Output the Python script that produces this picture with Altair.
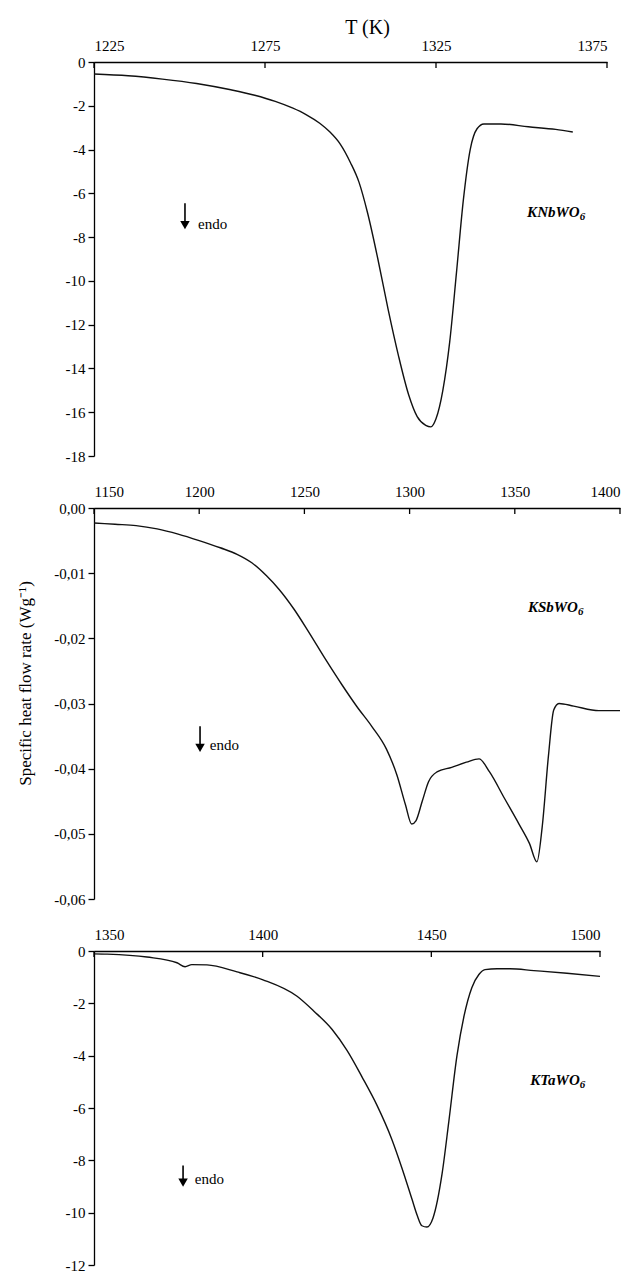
import altair as alt
import pandas as pd

FONT = "Liberation Serif"
MINUS = "\u2212"

# ---------------- data ----------------
# Panel 1: KNbWO6
t1 = [1225, 1235, 1245, 1255, 1265, 1272, 1278, 1283, 1287, 1291,
      1294, 1297, 1300, 1302.5, 1305, 1308, 1311, 1314, 1317, 1319.5,
      1322, 1323.5, 1325, 1327, 1329, 1331, 1333, 1335, 1337, 1339,
      1344, 1352, 1360, 1365]
v1 = [-0.55, -0.63, -0.78, -0.98, -1.27, -1.52, -1.8, -2.1, -2.4, -2.8,
      -3.2, -3.75, -4.6, -5.5, -6.9, -9.0, -11.3, -13.4, -15.2, -16.2,
      -16.6, -16.67, -16.3, -15.0, -12.8, -9.6, -6.3, -4.0, -3.05, -2.83,
      -2.83, -2.96, -3.08, -3.2]

# Panel 2: KSbWO6
t2 = [1150, 1160, 1170, 1180, 1190, 1200, 1210, 1218, 1225, 1232,
      1238, 1245, 1252, 1260, 1268, 1275, 1282, 1289, 1294, 1298,
      1301, 1303, 1306, 1309, 1313, 1320, 1327, 1333, 1338, 1345,
      1352, 1357, 1360.5, 1363, 1366, 1368.5, 1371, 1378, 1390, 1400]
v2 = [-0.0023, -0.0025, -0.0027, -0.0032, -0.0040, -0.0050, -0.0061, -0.0071, -0.0084, -0.0104,
      -0.0125, -0.0155, -0.0190, -0.0232, -0.0272, -0.0305, -0.0335, -0.0370, -0.0410, -0.0455,
      -0.0485, -0.0480, -0.0450, -0.0420, -0.0405, -0.0398, -0.0390, -0.0385, -0.0405, -0.0445,
      -0.0485, -0.0515, -0.0543, -0.0490, -0.0380, -0.0310, -0.0300, -0.0304, -0.0311, -0.0311]

# Panel 3: KTaWO6
t3 = [1350.0, 1353.9, 1365.7, 1374.6, 1377.0, 1379.0, 1383.5, 1392.4, 1400.1, 1410.2,
      1415.2, 1420.6, 1425.0, 1429.4, 1433.9, 1438.3, 1441.3, 1444.3, 1445.8, 1447.2,
      1448.7, 1450.5, 1453.2, 1455.2, 1457.6, 1459.7, 1462.0, 1464.1, 1465.9, 1469.5,
      1473.3, 1480.4, 1490.2, 1500.0]
v3 = [-0.11, -0.12, -0.23, -0.45, -0.6, -0.52, -0.53, -0.8, -1.1, -1.73,
      -2.3, -3.0, -3.8, -4.8, -5.9, -7.2, -8.3, -9.5, -10.1, -10.5,
      -10.55, -10.2, -8.5, -6.5, -4.0, -2.48, -1.4, -0.9, -0.71, -0.68,
      -0.68, -0.75, -0.85, -0.97]

# axis ticks
xt1 = [1225, 1275, 1325, 1375]
yt1 = [0, -2, -4, -6, -8, -10, -12, -14, -16, -18]
xt2 = [1150, 1200, 1250, 1300, 1350, 1400]
yt2 = [0.0, -0.01, -0.02, -0.03, -0.04, -0.05, -0.06]
xt3 = [1350, 1400, 1450, 1500]
yt3 = [0, -2, -4, -6, -8, -10, -12]

# annotations (data coordinates): compound name, subscript, "endo" arrow
names = ["KNbWO", "KSbWO", "KTaWO"]
subs = ["6", "6", "6"]
name_t = [1367.0, 1380.0, 1494.0]
name_v = [-6.85, -0.0152, -4.93]
arrow_t = [1251.6, 1200.4, 1376.4]
arrow_top = [-6.45, -0.0335, -8.2]
arrow_shaft_end = [-7.3, -0.0362, -8.8]
arrow_head = [-7.45, -0.0368, -8.85]
endo_t = [1255.4, 1205.0, 1379.9]
endo_v = [-7.4, -0.0363, -8.7]


def ylab(fmt):
    return f"replace(replace(format(datum.value, '{fmt}'), '.', ','), '{MINUS}', '-')"


def panel(i, t, v, xdom, xticks, ydom, yticks, width, height, yfmt, xtitle=None, ytitle=None):
    df = pd.DataFrame({"t": t, "v": v})
    xscale = alt.Scale(domain=xdom, nice=False, zero=False)
    yscale = alt.Scale(domain=ydom, nice=False, zero=False)

    xaxis_kw = dict(orient="top", values=xticks, format="d", tickSize=0, labelPadding=9,
                    labelFont=FONT, labelFontSize=15, labelColor="black",
                    domainColor="black", domainWidth=1.3, grid=False)
    if xtitle:
        xaxis_kw.update(title=xtitle, titleFont=FONT, titleFontSize=20, titleFontWeight="normal",
                        titleColor="black", titleX=273, titleY=-29, titleBaseline="alphabetic")
    else:
        xaxis_kw.update(title=None)
    yaxis_kw = dict(orient="left", values=yticks, labelExpr=ylab(yfmt), tickSize=6,
                    labelPadding=3, labelFont=FONT, labelFontSize=15, labelColor="black",
                    domainColor="black", domainWidth=1.3,
                    tickColor="black", tickWidth=1.3, grid=False)
    if ytitle:
        yaxis_kw.update(title=ytitle, titleFont=FONT, titleFontSize=17, titleFontWeight="normal",
                        titleColor="black", titleX=-69, titleY=175, titleBaseline="middle",
                        titleAngle=270)
    else:
        yaxis_kw.update(title=None)

    line = alt.Chart(df).mark_line(color="#111111", strokeWidth=1.4, interpolate="monotone").encode(
        x=alt.X("t:Q", scale=xscale, axis=alt.Axis(**xaxis_kw)),
        y=alt.Y("v:Q", scale=yscale, axis=alt.Axis(**yaxis_kw)),
    )

    ticks_df = pd.DataFrame({"t": xticks})
    xtick_marks = alt.Chart(ticks_df).mark_rule(color="black", strokeWidth=1.3).encode(
        x=alt.X("t:Q", scale=xscale),
        y=alt.value(0),
        y2=alt.value(6),
    )

    ann = pd.DataFrame({
        "name": [names[i]], "sub": [subs[i]], "nt": [name_t[i]], "nv": [name_v[i]],
        "at": [arrow_t[i]], "a0": [arrow_top[i]], "a1": [arrow_shaft_end[i]], "ah": [arrow_head[i]],
        "et": [endo_t[i]], "ev": [endo_v[i]],
    })
    name_mark = alt.Chart(ann).mark_text(font=FONT, fontSize=15, fontWeight="bold",
                                         fontStyle="italic", align="right", baseline="middle",
                                         color="black").encode(
        x=alt.X("nt:Q", scale=xscale), y=alt.Y("nv:Q", scale=yscale), text="name:N")
    sub_mark = alt.Chart(ann).mark_text(font=FONT, fontSize=11, fontWeight="bold",
                                        fontStyle="italic", align="left", baseline="middle",
                                        dy=5, dx=0, color="black").encode(
        x=alt.X("nt:Q", scale=xscale), y=alt.Y("nv:Q", scale=yscale), text="sub:N")
    shaft = alt.Chart(ann).mark_rule(color="black", strokeWidth=1.6).encode(
        x=alt.X("at:Q", scale=xscale), y=alt.Y("a0:Q", scale=yscale), y2="a1:Q")
    head = alt.Chart(ann).mark_point(shape="triangle-down", filled=True, color="black",
                                     size=90, opacity=1).encode(
        x=alt.X("at:Q", scale=xscale), y=alt.Y("ah:Q", scale=yscale))
    endo = alt.Chart(ann).mark_text(font=FONT, fontSize=15, align="left", baseline="middle",
                                    color="black").encode(
        x=alt.X("et:Q", scale=xscale), y=alt.Y("ev:Q", scale=yscale), text=alt.value("endo"))

    return alt.layer(line, xtick_marks, name_mark, sub_mark, shaft, head, endo).properties(
        width=width, height=height)


p1 = panel(0, t1, v1, [1225, 1375], xt1, [-18, 0], yt1, 513, 394, "d", xtitle="T (K)")
p2 = panel(1, t2, v2, [1150, 1400], xt2, [-0.06, 0], yt2, 526, 391, ".2f",
           ytitle="Specific heat flow rate (Wg\u207b\u00b9)")
p3 = panel(2, t3, v3, [1350, 1500], xt3, [-12, 0], yt3, 506, 314, "d")

chart = alt.vconcat(p1, p2, p3, spacing=20).properties(
    padding={"left": 16, "top": 17, "right": 5, "bottom": 2},
    background="white",
).configure_view(stroke=None).configure_axis(
    labelFont=FONT, titleFont=FONT, labelColor="black", titleColor="black",
).configure_text(font=FONT)

chart.save("out.html", embed_options={"renderer": "svg", "actions": False})
